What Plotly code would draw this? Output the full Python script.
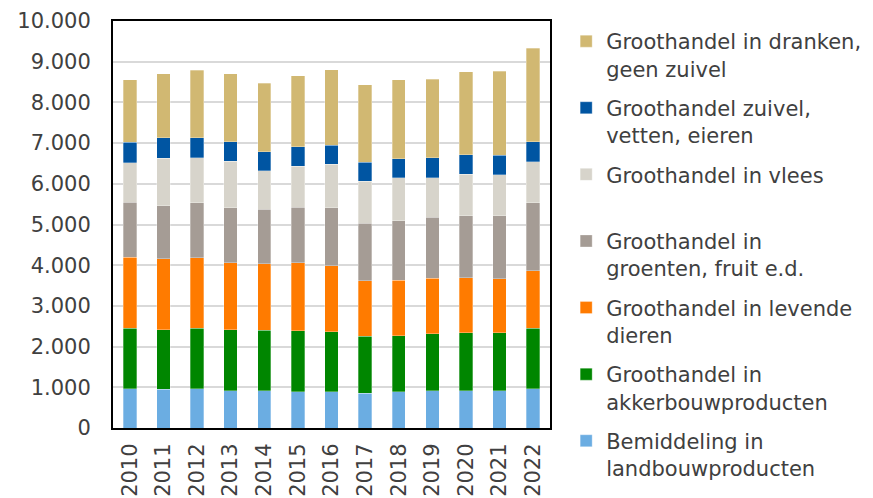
import plotly.graph_objects as go

# jaren
years = [str(y) for y in range(2010, 2023)]

# omzet per branche (gestapeld, van onder naar boven)
bemiddeling = [960, 950, 960, 920, 920, 890, 890, 860, 890, 910, 910, 910, 960]
akkerbouw = [1490, 1470, 1490, 1500, 1480, 1500, 1480, 1400, 1375, 1400, 1425, 1425, 1490]
levende_dieren = [1750, 1735, 1735, 1645, 1640, 1665, 1615, 1360, 1370, 1365, 1360, 1335, 1410]
groenten_fruit = [1345, 1305, 1345, 1345, 1335, 1375, 1425, 1415, 1460, 1500, 1515, 1540, 1670]
vlees = [975, 1170, 1115, 1140, 950, 1000, 1065, 1030, 1050, 975, 1025, 1015, 1015]
zuivel = [500, 500, 485, 485, 465, 475, 475, 465, 475, 490, 475, 475, 490]
dranken = [1540, 1575, 1655, 1665, 1680, 1755, 1850, 1900, 1935, 1935, 2040, 2070, 2300]

series = [
    ("Bemiddeling in<br>landbouwproducten", bemiddeling, "#6BADE2"),
    ("Groothandel in<br>akkerbouwproducten", akkerbouw, "#008600"),
    ("Groothandel in levende<br>dieren", levende_dieren, "#FF7B00"),
    ("Groothandel in<br>groenten, fruit e.d.", groenten_fruit, "#A59C95"),
    ("Groothandel in vlees<br>&#160;", vlees, "#D7D4CB"),
    ("Groothandel zuivel,<br>vetten, eieren", zuivel, "#0055A2"),
    ("Groothandel in dranken,<br>geen zuivel", dranken, "#D1B872"),
]

fig = go.Figure()
for i, (name, vals, col) in enumerate(series):
    fig.add_trace(go.Bar(
        x=years, y=vals, name=name, legendgroup=str(i),
        legendrank=10 * (len(series) - i),
        marker_color=col,
        marker_line=dict(width=0.6, color="rgba(255,255,255,0.5)"),
    ))

# de pagina heeft 8px body-marge, daarom marges iets kleiner
fig.update_layout(
    barmode="stack",
    bargap=0.6,
    width=873,
    height=498,
    plot_bgcolor="white",
    paper_bgcolor="white",
    separators=",.",
    font=dict(family="DejaVu Sans", size=21, color="#404040"),
    margin=dict(l=105, r=331, t=13, b=78, autoexpand=False),
    legend=dict(
        x=1.037, y=1.0, xanchor="left", yanchor="top",
        traceorder="grouped",
        tracegroupgap=9,
        valign="top",
        maxheight=490,
        font=dict(size=21),
    ),
    xaxis=dict(
        showline=True, linewidth=2, linecolor="black", mirror=True,
        tickangle=-90, showgrid=False, ticks="", ticklabelstandoff=5,
    ),
    yaxis=dict(
        range=[0, 10000], dtick=1000, tickformat=",d",
        showline=True, linewidth=2, linecolor="black", mirror=True,
        showgrid=True, gridcolor="#D9D9D9", gridwidth=1.5,
        ticks="", ticklabelstandoff=16,
    ),
)

fig.write_html("out.html")
